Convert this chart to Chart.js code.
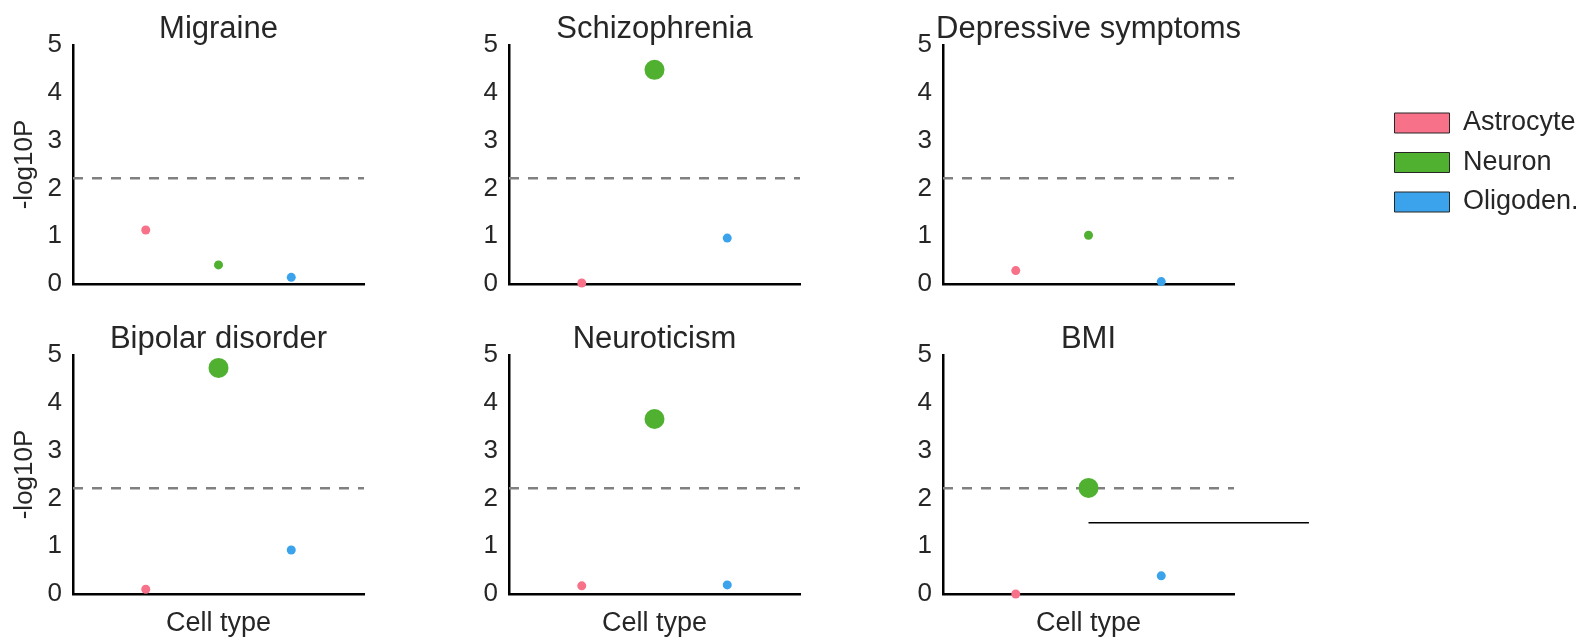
<!DOCTYPE html>
<html>
<head>
<meta charset="utf-8">
<script src="https://cdn.jsdelivr.net/npm/chart.js@4.4.0/dist/chart.umd.min.js"></script>
<style>
  body { margin: 0; background: #fff; width: 1585px; height: 639px; position: relative; overflow: hidden; }
  canvas { position: absolute; }
</style>
</head>
<body>
<script>
const traits = ["Migraine", "Schizophrenia", "Depressive symptoms", "Bipolar disorder", "Neuroticism", "BMI"];
const cellTypes = ["Astrocyte", "Neuron", "Oligoden."];
const astrocyte = [1.13, 0.02, 0.28, 0.10, 0.17, 0.00];
const neuron    = [0.40, 4.48, 1.02, 4.73, 3.66, 2.22];
const oligoden  = [0.14, 0.96, 0.05, 0.92, 0.19, 0.38];
const threshold = 2.21;
const yTicks = [0, 1, 2, 3, 4, 5];
// stray horizontal segment seen in the BMI panel
const bmiSegX = [2, 5.03];
const bmiSegY = [1.49, 1.49];

const values = [astrocyte, neuron, oligoden];
const colors = ["#f77189", "#50b131", "#3ba3ec"];
const FONT = "'Liberation Sans', Arial, Helvetica, sans-serif";
const TXT = "#262626";

Chart.defaults.font.family = FONT;
Chart.defaults.color = TXT;

// panel geometry
const plotLeft = [73, 509, 943];
const plotTop = [45, 355];
const plotW = 291, plotH = 239;
const margin = [73, 73, 76];
const titleH = 36, titlePadTop = 4, xH = 46;

function addCanvas(left, top, w, h) {
  const c = document.createElement("canvas");
  c.width = w; c.height = h;
  c.style.left = left + "px"; c.style.top = top + "px";
  c.style.width = w + "px"; c.style.height = h + "px";
  document.body.appendChild(c);
  return c;
}

traits.forEach((trait, i) => {
  const col = i % 3, row = Math.floor(i / 3);
  const m = margin[col];
  const canvas = addCanvas(plotLeft[col] - m, plotTop[row] - titleH, plotW + 2 * m, titleH + plotH + xH);

  const datasets = cellTypes.map((name, k) => ({
    type: "scatter",
    label: name,
    data: [{ x: k + 1, y: values[k][i] }],
    backgroundColor: colors[k],
    borderWidth: 0,
    pointRadius: values[k][i] >= threshold ? 10 : 4.5,
    pointHoverRadius: values[k][i] >= threshold ? 10 : 4.5,
    clip: false,
    order: 0
  }));

  datasets.push({
    type: "line",
    label: "threshold",
    data: [{ x: 0, y: threshold }, { x: 4, y: threshold }],
    borderColor: "#808080",
    borderWidth: 2.5,
    borderDash: [10, 9],
    pointRadius: 0,
    order: 2
  });

  if (trait === "BMI") {
    datasets.push({
      type: "line",
      label: "segment",
      data: bmiSegX.map((x, j) => ({ x: x, y: bmiSegY[j] })),
      borderColor: "#000",
      borderWidth: 1.5,
      pointRadius: 0,
      clip: false,
      order: 1
    });
  }

  new Chart(canvas, {
    type: "scatter",
    data: { datasets: datasets },
    options: {
      responsive: false,
      animation: false,
      devicePixelRatio: 1,
      layout: { padding: 0 },
      plugins: {
        legend: { display: false },
        tooltip: { enabled: false },
        title: {
          display: true,
          text: trait,
          color: TXT,
          font: { size: 31, weight: "normal", lineHeight: (titleH - titlePadTop) / 31 },
          padding: { top: titlePadTop, bottom: 0 }
        }
      },
      scales: {
        x: {
          type: "linear",
          min: 0,
          max: 4,
          afterFit: s => { s.height = xH; },
          grid: { display: false, drawTicks: false },
          border: { display: true, color: "#000", width: 2.5 },
          ticks: { display: false },
          title: {
            display: row === 1,
            text: "Cell type",
            color: TXT,
            font: { size: 27, lineHeight: 1.2 },
            padding: 0
          }
        },
        y: {
          min: 0,
          max: 5,
          afterFit: s => { s.width = m; },
          afterBuildTicks: s => { s.ticks = yTicks.map(v => ({ value: v })); },
          grid: { display: false, drawTicks: false },
          border: { display: true, color: "#000", width: 2.5 },
          ticks: { padding: 11, color: TXT, font: { size: 26 } },
          title: {
            display: col === 0,
            text: "-log10P",
            color: TXT,
            font: { size: 26, lineHeight: 1.2 },
            padding: { top: 9, bottom: 0 }
          }
        },
        // empty right axis, keeps the plot centred under the title
        yRight: {
          position: "right",
          min: 0,
          max: 5,
          afterFit: s => { s.width = m; },
          grid: { display: false, drawTicks: false },
          border: { display: false },
          ticks: { display: false }
        }
      }
    }
  });
});

// legend
const legendCanvas = addCanvas(1382, 97, 203, 400);
new Chart(legendCanvas, {
  type: "scatter",
  data: {
    datasets: cellTypes.map((name, k) => ({
      label: name,
      data: [],
      backgroundColor: colors[k],
      borderColor: TXT,
      borderWidth: 1
    }))
  },
  options: {
    responsive: false,
    animation: false,
    devicePixelRatio: 1,
    scales: { x: { display: false }, y: { display: false } },
    plugins: {
      tooltip: { enabled: false },
      legend: {
        position: "top",
        align: "start",
        labels: { boxWidth: 55, boxHeight: 20, padding: 12.5, color: TXT, font: { size: 27 } }
      }
    }
  }
});
</script>
</body>
</html>
